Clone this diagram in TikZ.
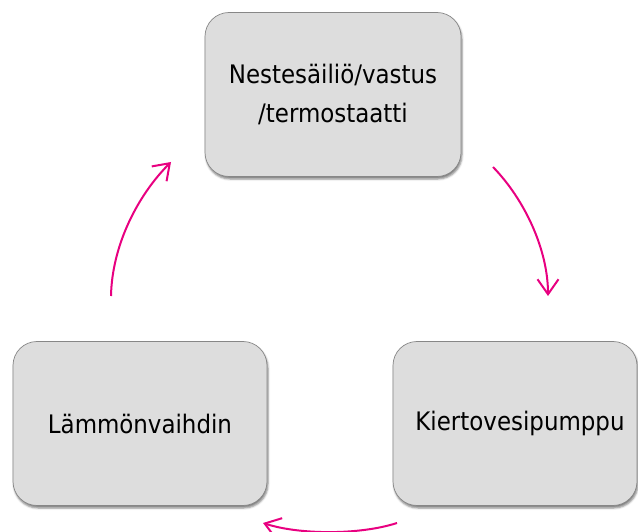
\documentclass[tikz,border=0pt]{standalone}
\usepackage{fontspec}
\setmainfont{DejaVu Sans Condensed}
\usetikzlibrary{arrows.meta,shadows.blur}
\definecolor{boxfill}{RGB}{221,221,221}
\definecolor{boxline}{RGB}{135,135,135}
\definecolor{arrowpink}{RGB}{232,0,128}
\begin{document}
\begin{tikzpicture}[x=1pt,y=-1pt,
  procbox/.style={draw=boxline, line width=0.7pt, fill=boxfill,
    rounded corners=24pt, minimum height=164pt, inner sep=0pt,
    align=center, font=\fontsize{25.5}{38.5}\selectfont,
    blur shadow={shadow xshift=1pt, shadow yshift=-2.5pt,
      shadow blur radius=2pt, shadow opacity=50}},
  cyclearrow/.style={draw=arrowpink, line width=2pt,
    -{Straight Barb[length=15pt,width=21pt]}}]
\useasboundingbox (0,0) rectangle (638,532);
\clip (0,0) rectangle (638,532);
\node[procbox, minimum width=256pt] (tank) at (333,94.5) {Nestesäiliö/vastus\\/termostaatti};
\node[procbox, minimum width=254pt] (hex) at (140,423.5) {Lämmönvaihdin};
\node[procbox, minimum width=244pt] (pump) at (515,423.5) {\hspace*{10pt}Kiertovesipumppu};
\coordinate (a1s) at (493,167);
\coordinate (a1e) at (548,296);
\coordinate (a2s) at (397,523);
\coordinate (a2e) at (263,523);
\coordinate (a3s) at (111,296);
\coordinate (a3e) at (171,162);
\draw[cyclearrow] (a1s) .. controls (525,200) and (548,250) .. (a1e);
\draw[cyclearrow] (a2s) .. controls (360,535) and (300,535) .. (a2e);
\draw[cyclearrow] (a3s) .. controls (112,245) and (138,195) .. (a3e);
\end{tikzpicture}
\end{document}
